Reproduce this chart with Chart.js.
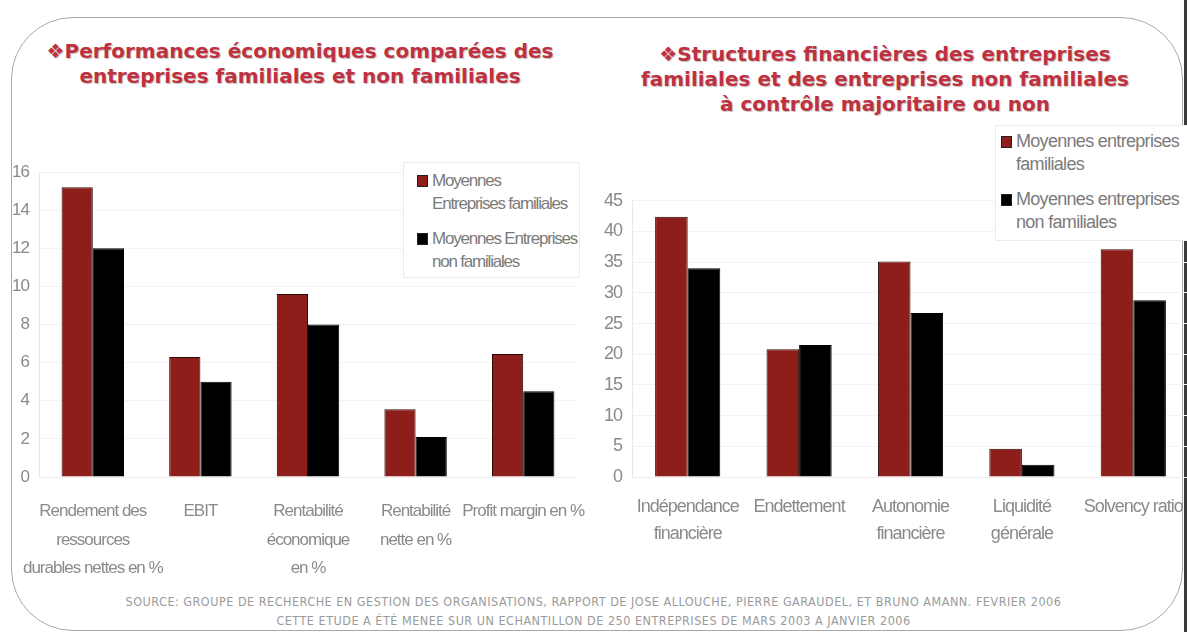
<!DOCTYPE html>
<html>
<head>
<meta charset="utf-8">
<script src="https://cdn.jsdelivr.net/npm/chart.js@4/dist/chart.umd.min.js"></script>
<style>
    body { margin: 0; width: 1187px; height: 632px; overflow: hidden; background: #fff; position: relative; }
    .frame { position: absolute; left: 11px; top: 17px; width: 1170px; height: 612px; border: 1px solid #a8a8a8; border-radius: 62px; }
    .edge { position: absolute; left: 1184px; top: 0; width: 3px; height: 632px; background: #3a3a3a; }
    .title { position: absolute; font-family: "DejaVu Sans", Verdana, sans-serif; font-weight: bold; font-size: 20px;
             color: #bf3140; text-align: center; line-height: 25px; text-shadow: 1px 1px 1px rgba(0,0,0,0.25); }
    .box { position: absolute; }
    .legend { position: absolute; border: 1px solid #ececec; background: #fff; font-family: "Liberation Sans", Arial, sans-serif;
              color: #7b7b7b; line-height: 23px; white-space: nowrap; overflow: hidden; }
    .legend .item { position: relative; padding-left: 15px; margin-bottom: 12px; }
    .legend .sw { position: absolute; left: 0; top: 6px; width: 9px; height: 10px; border: 1px solid #222; }
    .source { position: absolute; left: 0; width: 1187px; text-align: center; font-family: "DejaVu Sans Condensed", "DejaVu Sans", sans-serif;
              font-size: 12.5px; letter-spacing: 0.5px; color: #9a9a9a; line-height: 19px; top: 592px; }
</style>
</head>
<body>
<div class="frame"></div>
<div class="edge"></div>

<div class="title" style="left:0; width:600px; top:39px;">❖Performances économiques comparées des<br>entreprises familiales et non familiales</div>
<div class="title" style="left:585px; width:600px; top:42px;">❖Structures financières des entreprises<br>familiales et des entreprises non familiales<br>à contrôle majoritaire ou non</div>

<div class="box" style="left:0; top:150px; width:600px; height:440px;"><canvas id="leftChart"></canvas></div>
<div class="box" style="left:590px; top:180px; width:660px; height:410px;"><canvas id="rightChart"></canvas></div>

<div class="legend" id="leftLegend" style="left:403px; top:162px; width:162px; padding:6px 0 0 13px; height:108px; font-size:17px; letter-spacing:-1.2px;"></div>
<div class="legend" id="rightLegend" style="left:995px; top:125px; width:200px; padding:4px 0 0 5px; height:110px; font-size:18px; letter-spacing:-0.7px;"></div>

<div class="source">SOURCE: GROUPE DE RECHERCHE EN GESTION DES ORGANISATIONS, RAPPORT DE JOSE ALLOUCHE, PIERRE GARAUDEL, ET BRUNO AMANN. FEVRIER 2006<br>CETTE ETUDE A ÉTÉ MENEE SUR UN ECHANTILLON DE 250 ENTREPRISES DE MARS 2003 A JANVIER 2006</div>

<script>
// --- Données : graphique de gauche (performances économiques) ---
const leftCategories = [
    ['Rendement des', 'ressources', 'durables nettes en %'],
    'EBIT',
    ['Rentabilité', 'économique', 'en %'],
    ['Rentabilité', 'nette en %'],
    'Profit margin en %'
];
const leftSeriesNames = [['Moyennes', 'Entreprises familiales'], ['Moyennes Entreprises', 'non familiales']];
const leftFamiliales = [15.2, 6.3, 9.6, 3.55, 6.45];
const leftNonFamiliales = [12, 5, 8, 2.1, 4.5];
const leftMax = 16, leftStep = 2;

// --- Données : graphique de droite (structures financières) ---
const rightCategories = [
    ['Indépendance', 'financière'],
    'Endettement',
    ['Autonomie', 'financière'],
    ['Liquidité', 'générale'],
    'Solvency ratio'
];
const rightSeriesNames = [['Moyennes entreprises', 'familiales'], ['Moyennes entreprises', 'non familiales']];
const rightFamiliales = [42.4, 20.8, 35.1, 4.6, 37.1];
const rightNonFamiliales = [34.0, 21.5, 26.7, 2.0, 28.8];
const rightMax = 45, rightStep = 5;

const RED = '#8e1e1a';
const BLACK = '#000000';
const GREY = '#8a8a8a';
const FONT = '"Liberation Sans", Arial, sans-serif';

// Pas de police "narrow" installée : on resserre les lettres du canvas
const narrowText = {
    id: 'narrowText',
    beforeUpdate(chart) { chart.ctx.letterSpacing = '-1px'; },
    beforeDraw(chart) { chart.ctx.letterSpacing = '-1px'; }
};

function buildLegend(id, names) {
    const colors = [RED, BLACK];
    document.getElementById(id).innerHTML = names.map((n, i) =>
        `<div class="item"><span class="sw" style="background:${colors[i]}"></span>${n.join('<br>')}</div>`
    ).join('');
}

function makeChart(id, labels, a, b, names, max, step, cfg) {
    return new Chart(document.getElementById(id), {
        type: 'bar',
        data: {
            labels: labels,
            datasets: [
                { label: names[0].join(' '), data: a, backgroundColor: RED, borderColor: '#2a0806', borderWidth: 1,
                  categoryPercentage: cfg.cat, barPercentage: 1 },
                { label: names[1].join(' '), data: b, backgroundColor: BLACK, borderColor: '#000', borderWidth: 1,
                  categoryPercentage: cfg.cat, barPercentage: 1 }
            ]
        },
        plugins: [narrowText],
        options: {
            responsive: true,
            maintainAspectRatio: false,
            animation: false,
            layout: { padding: { top: cfg.top, right: cfg.right, left: 0, bottom: 0 } },
            plugins: { legend: { display: false }, tooltip: { enabled: false } },
            scales: {
                x: {
                    grid: { display: false },
                    border: { color: '#eeeeee' },
                    ticks: { color: GREY, font: { family: FONT, size: cfg.xFont, lineHeight: cfg.xLine },
                             padding: cfg.xPad, maxRotation: 0, minRotation: 0, autoSkip: false },
                    afterFit: s => { s.height = 113; s.paddingLeft = 0; s.paddingRight = 0; }
                },
                y: {
                    min: 0, max: max,
                    ticks: { stepSize: step, color: GREY, font: { family: FONT, size: cfg.yFont }, padding: cfg.yPad },
                    grid: { color: '#f3f3f3', drawTicks: false },
                    border: { color: '#e8e8e8' },
                    afterFit: s => { s.width = cfg.yWidth; }
                }
            }
        }
    });
}

buildLegend('leftLegend', leftSeriesNames);
buildLegend('rightLegend', rightSeriesNames);

makeChart('leftChart', leftCategories, leftFamiliales, leftNonFamiliales, leftSeriesNames, leftMax, leftStep,
    { cat: 0.58, top: 22, right: 23, xFont: 17, xLine: 1.68, xPad: 12, yFont: 17, yPad: 10, yWidth: 39 });

makeChart('rightChart', rightCategories, rightFamiliales, rightNonFamiliales, rightSeriesNames, rightMax, rightStep,
    { cat: 0.585, top: 20, right: 61, xFont: 18, xLine: 1.5, xPad: 9, yFont: 18, yPad: 10, yWidth: 42 });
</script>
</body>
</html>
